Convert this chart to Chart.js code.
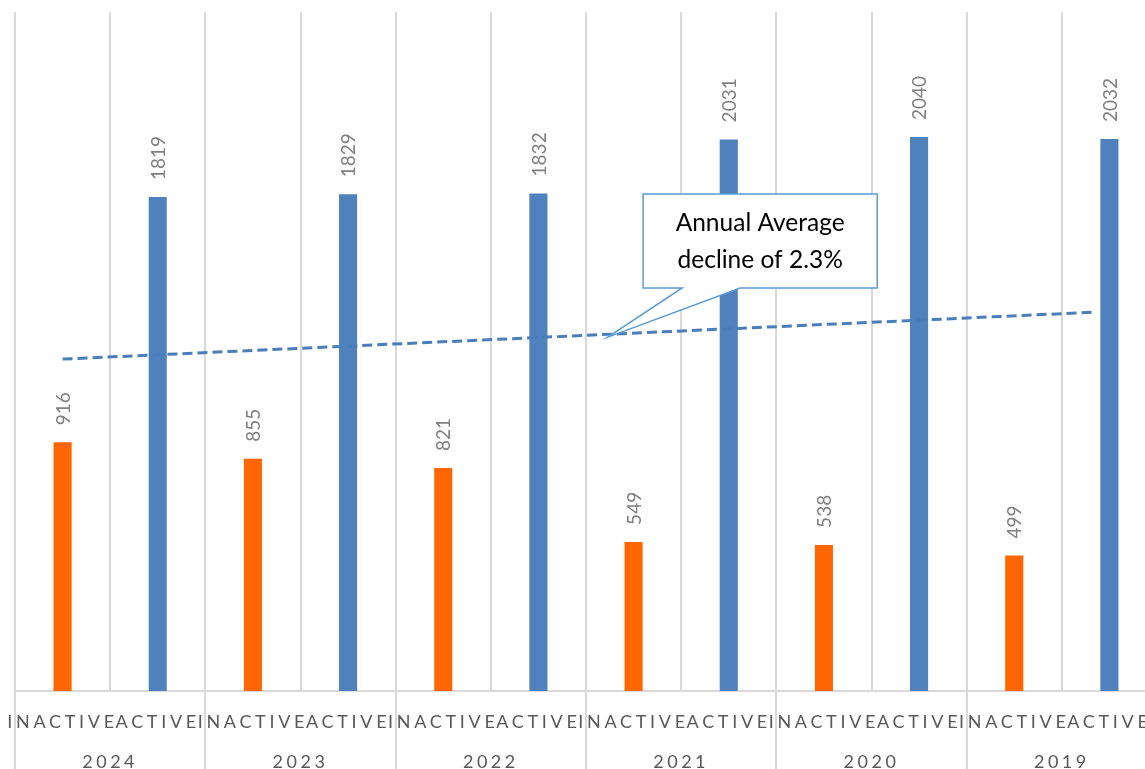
<!DOCTYPE html>
<html>
<head>
<meta charset="utf-8">
<script src="https://cdn.jsdelivr.net/npm/chart.js@4/dist/chart.umd.min.js"></script>
<style>
  html, body { margin: 0; padding: 0; background: #fff; overflow: hidden; }
  #wrap { position: absolute; left: 0; top: 0; width: 1160px; height: 769px; }
</style>
</head>
<body>
<div id="wrap"><canvas id="chart"></canvas></div>
<script>
// Members per year, split by status
const years = ['2024', '2023', '2022', '2021', '2020', '2019'];
const statuses = ['INACTIVE', 'ACTIVE'];
const inactiveCounts = [916, 855, 821, 549, 538, 499];
const activeCounts = [1819, 1829, 1832, 2031, 2040, 2032];

// Dashed trend line: end values and their positions along the category index
const trendValues = [1222, 1395];
const trendPositions = [0, 10.86];

// Callout text
const calloutLines = ['Annual Average', 'decline of 2.3%'];

const statusColors = { INACTIVE: '#FF6600', ACTIVE: '#4F81BD' };

const labels = years.flatMap(() => statuses);
const values = years.flatMap((y, i) => [inactiveCounts[i], activeCounts[i]]);
const barColors = labels.map(s => statusColors[s]);
const trendData = trendPositions.map((x, i) => ({ x, y: trendValues[i] }));

// Callout placement in axis units (xt = category index, y = value)
const callout = {
  left: 6.10, right: 8.56, top: 1830, bottom: 1484,
  baseLeft: 6.51, baseRight: 7.12,
  tipX: 5.73, tipY: 1303
};

const GRID = '#d9d9d9';

// Value labels written vertically above each bar
const valueLabels = {
  id: 'valueLabels',
  afterDatasetsDraw(chart) {
    const { ctx } = chart;
    const meta = chart.getDatasetMeta(0);
    ctx.save();
    ctx.font = '19px Lato';
    ctx.fillStyle = '#808080';
    ctx.textAlign = 'left';
    ctx.textBaseline = 'middle';
    meta.data.forEach((bar, i) => {
      ctx.save();
      ctx.translate(bar.x, bar.y - 17);
      ctx.rotate(-Math.PI / 2);
      ctx.fillText(String(values[i]), 0, 1);
      ctx.restore();
    });
    ctx.restore();
  }
};

// Two-level category axis: status labels, year labels and year separators
const groupAxis = {
  id: 'groupAxis',
  afterDraw(chart) {
    const { ctx, chartArea, scales } = chart;
    const x = scales.x;
    const half = (x.getPixelForValue(1) - x.getPixelForValue(0)) / 2;
    ctx.save();
    ctx.strokeStyle = GRID;
    ctx.lineWidth = 2;
    for (let g = 0; g <= years.length; g++) {
      const px = Math.round(x.getPixelForValue(g * 2) - half);
      ctx.beginPath();
      ctx.moveTo(px, chartArea.bottom);
      ctx.lineTo(px, chart.height);
      ctx.stroke();
    }
    ctx.fillStyle = '#595959';
    ctx.textAlign = 'center';
    ctx.textBaseline = 'alphabetic';
    ctx.font = '18px Lato';
    ctx.letterSpacing = '3.7px';
    labels.forEach((lab, i) => {
      ctx.fillText(lab, x.getPixelForValue(i), chartArea.bottom + 37);
    });
    ctx.font = '18px Lato';
    ctx.letterSpacing = '3.5px';
    years.forEach((yr, g) => {
      const cx = (x.getPixelForValue(g * 2) + x.getPixelForValue(g * 2 + 1)) / 2;
      ctx.fillText(yr, cx, chartArea.bottom + 77);
    });
    ctx.restore();
  }
};

// Speech-bubble callout pointing at the trend line
const calloutBox = {
  id: 'calloutBox',
  afterDraw(chart) {
    const { ctx, scales } = chart;
    const xt = scales.xt, y = scales.y;
    const L = xt.getPixelForValue(callout.left), R = xt.getPixelForValue(callout.right);
    const T = y.getPixelForValue(callout.top), B = y.getPixelForValue(callout.bottom);
    const bl = xt.getPixelForValue(callout.baseLeft), br = xt.getPixelForValue(callout.baseRight);
    const tx = xt.getPixelForValue(callout.tipX), ty = y.getPixelForValue(callout.tipY);
    ctx.save();
    ctx.beginPath();
    ctx.moveTo(L, T);
    ctx.lineTo(R, T);
    ctx.lineTo(R, B);
    ctx.lineTo(br, B);
    ctx.lineTo(tx, ty);
    ctx.lineTo(bl, B);
    ctx.lineTo(L, B);
    ctx.closePath();
    ctx.fillStyle = '#ffffff';
    ctx.fill();
    ctx.strokeStyle = '#5B9BD5';
    ctx.lineWidth = 1.5;
    ctx.stroke();
    ctx.fillStyle = '#000000';
    ctx.font = '24.5px Lato';
    ctx.textAlign = 'center';
    ctx.textBaseline = 'middle';
    const cx = (L + R) / 2;
    ctx.fillText(calloutLines[0], cx, T + 29);
    ctx.fillText(calloutLines[1], cx, T + 66);
    ctx.restore();
  }
};

new Chart(document.getElementById('chart'), {
  type: 'bar',
  data: {
    labels,
    datasets: [
      {
        type: 'bar',
        data: values,
        backgroundColor: barColors,
        grouped: false,
        categoryPercentage: 1,
        barPercentage: 0.19,
        order: 2
      },
      {
        type: 'line',
        data: trendData,
        xAxisID: 'xt',
        yAxisID: 'y',
        borderColor: '#4A7EBB',
        borderWidth: 3,
        borderDash: [10, 5],
        pointRadius: 0,
        fill: false,
        order: 1
      }
    ]
  },
  options: {
    responsive: true,
    maintainAspectRatio: false,
    animation: false,
    events: [],
    layout: { padding: { left: 15, right: 3, top: 12, bottom: 78 } },
    plugins: { legend: { display: false }, tooltip: { enabled: false } },
    scales: {
      x: {
        type: 'category',
        offset: true,
        grid: { offset: true, color: GRID, lineWidth: 2, drawTicks: false },
        ticks: { display: false },
        border: { color: GRID, width: 2 }
      },
      xt: { type: 'linear', display: false, offset: false, min: -0.5, max: 11.5 },
      y: { display: false, min: 0, max: 2500 }
    }
  },
  plugins: [valueLabels, groupAxis, calloutBox]
});
</script>
</body>
</html>
